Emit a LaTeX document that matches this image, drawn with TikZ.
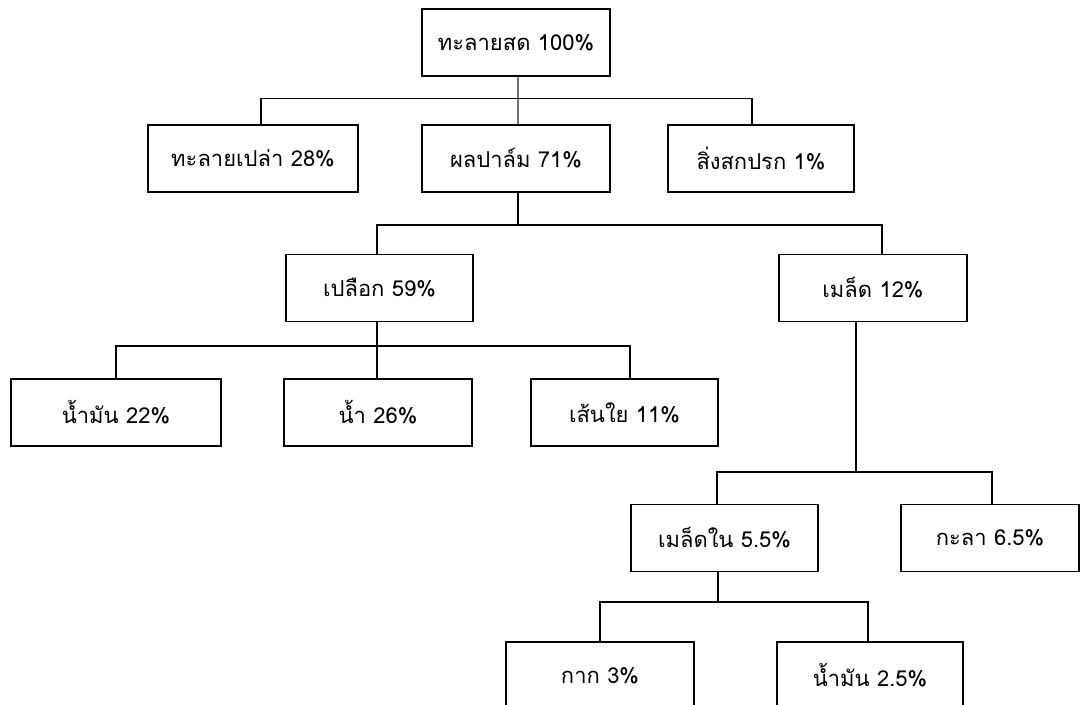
\documentclass[tikz,border=0pt]{standalone}
\usepackage{fontspec}
\newfontfamily\thaifont[Script=Thai]{Loma}
\usetikzlibrary{calc}

\begin{document}
\begin{tikzpicture}[x=0.02cm,y=-0.02cm,line width=0.8pt,
	node font=\thaifont\fontsize{12.5}{15}\selectfont,
	box/.style={draw,rectangle,inner sep=0pt,minimum height=1.34cm,minimum width=3.76cm}]
			\clip (0,0) rectangle (1085,704);
			
			\node[box] (root) at (516,42.5) {ทะลายสด 100\%};
			\node[box,minimum width=4.2cm] (empty) at (253,158.5) {ทะลายเปล่า 28\%};
			\node[box] (fruit) at (516,158.5) {ผลปาล์ม 71\%};
			\node[box,minimum width=3.72cm] (dirt) at (761,158.5) {สิ่งสกปรก 1\%};
			\node[box,minimum width=3.74cm] (husk) at (379.5,288) {เปลือก 59\%};
			\node[box] (seed) at (873,288) {เมล็ด 12\%};
			\node[box,minimum width=4.2cm] (oil) at (116,412.5) {น้ำมัน 22\%};
			\node[box] (water) at (378,412.5) {น้ำ 26\%};
			\node[box,minimum width=3.74cm] (fibre) at (624.5,412.5) {เส้นใย 11\%};
			\node[box,minimum width=3.74cm] (kernel) at (724.5,538) {เมล็ดใน 5.5\%};
			\node[box,minimum width=3.56cm] (shell) at (990,538) {กะลา 6.5\%};
			\node[box] (cake) at (600,675.5) {กาก 3\%};
			\node[box,minimum width=3.72cm] (koil) at (870,675.5) {น้ำมัน 2.5\%};
			
			\coordinate (j1) at (518,98.5);
			\coordinate (j2) at (518,225);
			\coordinate (j3) at (377,346);
			\coordinate (j4) at (856,472);
			\coordinate (j5) at (718,602);
			
			\draw[black!55]  (root.south -| j1)-- (fruit.north -| j1);
			\draw  ($(empty.north)+(8,0)$) |- (j1) -| ($(dirt.north)+(-9,0)$);
			
			\draw  (fruit.south -| j2)-- (j2);
			\draw  ($(husk.north)+(-2.5,0)$) |- (j2) -| ($(seed.north)+(9,0)$);
			
			\draw  (husk.south -| j3)-- (j3);
			\draw  (oil.north) |- (j3) -| ($(fibre.north)+(5.5,0)$);
			\draw  (j3)-- (water.north -| j3);
			
			\draw  (seed.south -| j4)-- (j4);
			\draw  ($(kernel.north)+(-7.5,0)$) |- (j4) -| ($(shell.north)+(2,0)$);
			
			\draw  (kernel.south -| j5)-- (j5);
			\draw  (cake.north) |- (j5) -| ($(koil.north)+(-2,0)$);
		\end{tikzpicture}
\end{document}
